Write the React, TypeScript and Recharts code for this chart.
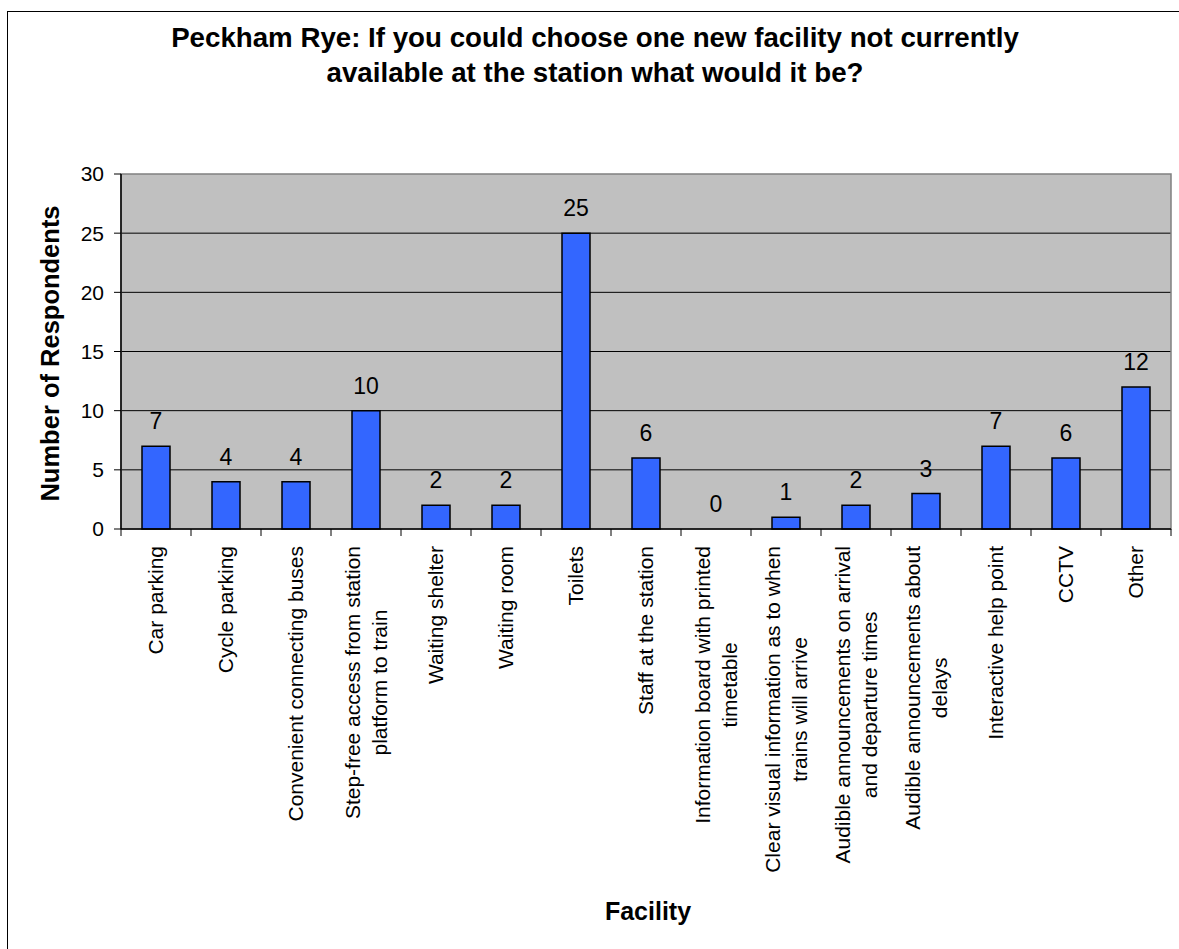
import React from 'react';
import { ComposedChart, Bar, Line, XAxis, YAxis, CartesianGrid, LabelList, ReferenceArea } from 'recharts';

const categories = [
  'Car parking',
  'Cycle parking',
  'Convenient connecting buses',
  'Step-free access from station\nplatform to train',
  'Waiting shelter',
  'Waiting room',
  'Toilets',
  'Staff at the station',
  'Information board with printed\ntimetable',
  'Clear visual information as to when\ntrains will arrive',
  'Audible announcements on arrival\nand departure times',
  'Audible announcements about\ndelays',
  'Interactive help point',
  'CCTV',
  'Other',
];
const respondents = [7, 4, 4, 10, 2, 2, 25, 6, 0, 1, 2, 3, 7, 6, 12];
const yTicks = [0, 5, 10, 15, 20, 25, 30];
const gridValues = [5, 10, 15, 20, 25];

const titleLines = [
  'Peckham Rye: If you could choose one new facility not currently',
  'available at the station what would it be?',
];
const yTitle = 'Number of Respondents';
const xTitle = 'Facility';

const FONT = "'Liberation Sans', Arial, Helvetica, sans-serif";
const W = 1179;
const H = 949;
const MARGIN = { top: 174, right: 8, left: 61, bottom: 0 };
const Y_AXIS_W = 60;
const X_AXIS_H = 420;
const PLOT_W = W - MARGIN.left - MARGIN.right - Y_AXIS_W;
const BAND = PLOT_W / categories.length;

const data = categories.map((c, i) => ({ name: c, value: respondents[i] }));

let ctx: CanvasRenderingContext2D | null = null;
function measure(text: string, size: number): number {
  if (!ctx) {
    const c = document.createElement('canvas');
    ctx = c.getContext('2d');
  }
  if (!ctx) return text.length * size * 0.5;
  ctx.font = `${size}px ${FONT}`;
  return ctx.measureText(text).width;
}

const TICK_FS = 21;
const LINE_GAP = 27;

const CategoryTick = (props: any) => {
  const { x, y, payload, index } = props;
  const lines: string[] = String(payload.value).split('\n');
  const maxW = Math.max(...lines.map((l) => measure(l, TICK_FS)));
  const along = 17 + maxW / 2;
  const n = lines.length;
  const isLast = index === categories.length - 1;
  return (
    <g transform={`translate(${x},${y})`}>
      <line x1={-BAND / 2} y1={0} x2={-BAND / 2} y2={7} stroke="#000" strokeWidth={1} />
      {isLast && <line x1={BAND / 2} y1={0} x2={BAND / 2} y2={7} stroke="#000" strokeWidth={1} />}
      <g transform="rotate(-90)">
        {lines.map((l, i) => (
          <text
            key={i}
            x={-along}
            y={(i - (n - 1) / 2) * LINE_GAP}
            dy="0.35em"
            textAnchor="middle"
            fontSize={TICK_FS}
            fontFamily={FONT}
            fill="#000"
          >
            {l}
          </text>
        ))}
      </g>
    </g>
  );
};

const ValueLabel = (props: any) => {
  const { x, y, width, value } = props;
  return (
    <text
      x={Number(x) + (Number(width) || 0) / 2}
      y={Number(y) - 17}
      textAnchor="middle"
      fontSize={23}
      fontFamily={FONT}
      fill="#000"
    >
      {value}
    </text>
  );
};

export default function App() {
  return (
    <div
      style={{
        position: 'absolute',
        left: 0,
        top: 0,
        width: W,
        height: H,
        overflow: 'hidden',
        background: '#fff',
        fontFamily: FONT,
      }}
    >
      <div style={{ position: 'absolute', left: 0, top: 0 }}>
        <ComposedChart width={W} height={H} data={data} margin={MARGIN}>
          <CartesianGrid
            vertical={false}
            horizontalValues={gridValues}
            stroke="#000"
            strokeWidth={1}
            fill="#C0C0C0"
            fillOpacity={1}
          />
          <ReferenceArea y1={0} y2={30} fill="none" fillOpacity={0} stroke="#808080" strokeWidth={1.5} />
          <XAxis
            dataKey="name"
            height={X_AXIS_H}
            interval={0}
            tickSize={0}
            tickMargin={0}
            tickLine={false}
            axisLine={{ stroke: '#000', strokeWidth: 1.5 }}
            tick={<CategoryTick />}
          />
          <YAxis
            width={Y_AXIS_W}
            domain={[0, 30]}
            ticks={yTicks}
            interval={0}
            tickSize={7}
            tickMargin={10}
            axisLine={{ stroke: '#000', strokeWidth: 1.5 }}
            tickLine={{ stroke: '#000' }}
            tick={{ fill: '#000', fontSize: 21, fontFamily: FONT }}
          />
          <Bar dataKey="value" fill="#3366FF" stroke="#000" strokeWidth={1.5} barSize={28} isAnimationActive={false} />
          <Line
            dataKey="value"
            stroke="none"
            strokeWidth={0}
            dot={false}
            activeDot={false}
            legendType="none"
            isAnimationActive={false}
          >
            <LabelList dataKey="value" content={<ValueLabel />} />
          </Line>
        </ComposedChart>
      </div>
      <svg
        width={W}
        height={H}
        style={{ position: 'absolute', left: 0, top: 0, pointerEvents: 'none' }}
      >
        <rect x={7.5} y={11.5} width={1300} height={1100} fill="none" stroke="#000" strokeWidth={1} />
        {titleLines.map((t, i) => (
          <text
            key={i}
            x={595}
            y={47 + i * 35}
            textAnchor="middle"
            fontSize={27.7}
            fontWeight="bold"
            fontFamily={FONT}
            fill="#000"
          >
            {t}
          </text>
        ))}
        <text
          x={59}
          y={353.5}
          transform="rotate(-90 59 353.5)"
          textAnchor="middle"
          fontSize={25.5}
          fontWeight="bold"
          fontFamily={FONT}
          fill="#000"
        >
          {yTitle}
        </text>
        <text x={648} y={920} textAnchor="middle" fontSize={25} fontWeight="bold" fontFamily={FONT} fill="#000">
          {xTitle}
        </text>
      </svg>
    </div>
  );
}
